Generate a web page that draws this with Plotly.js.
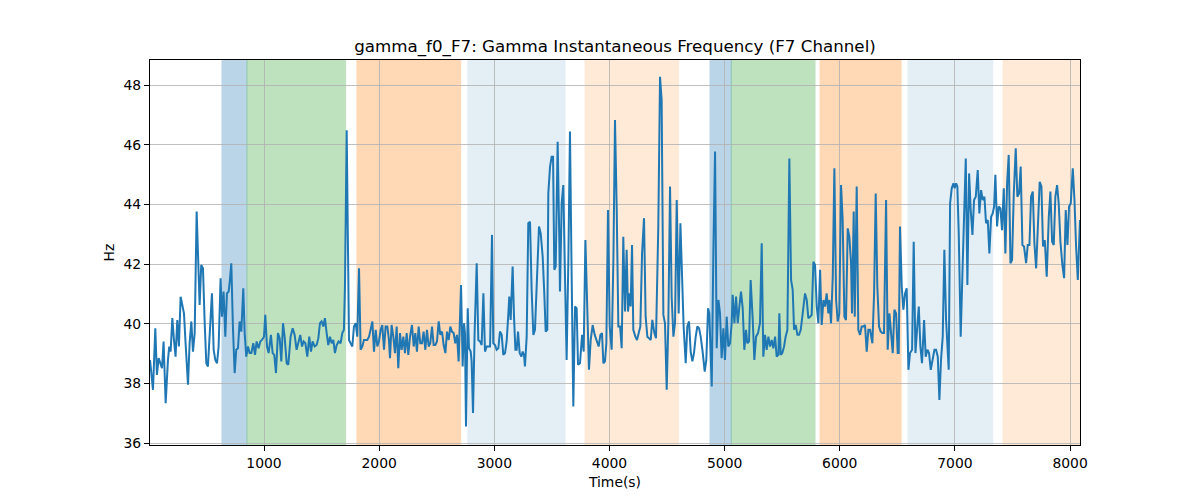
<!DOCTYPE html>
<html>
<head>
<meta charset="utf-8">
<script src="https://cdn.plot.ly/plotly-3.0.1.min.js"></script>
<style>html,body{margin:0;padding:0;background:#fff;}#chart{width:1200px;height:500px;}</style>
</head>
<body>
<div id="chart"></div>
<script>
// Time (s) and gamma instantaneous frequency (Hz) in segments
const time1 = [10,36,56,70,85,99,114,128,146,166,177,189,204,218,232,247,261,276,305,319,340,354,369,383,398,415,426,441,455,470,484,499,513,534,548,563,577,592,606,623,635,649,664,678,693,704,716,730,745,759,774,788,803,820,832,846,861,875,890,907,922,936,953,968,982,1000,1011,1026,1040,1060,1075,1089,1104,1121,1136,1150,1165,1179,1197,1211,1231,1249,1266,1283,1301,1315,1330,1344,1359,1376];
const freq1 = [38.79,37.79,39.85,38.29,38.85,38.68,38.51,39.41,37.34,38.79,39.24,39.07,40.19,39.46,38.90,40.13,39.24,40.91,40.35,39.35,37.96,39.35,40.08,39.07,39.69,43.76,42.59,40.63,41.97,41.86,40.13,38.68,38.57,39.91,41.02,39.13,38.79,38.68,39.24,41.53,40.24,41.08,39.57,41.02,41.08,41.47,42.03,39.91,38.35,39.13,39.18,40.08,39.74,41.19,39.69,38.90,39.24,39.02,39.02,39.35,38.96,39.41,39.18,39.41,39.46,39.57,40.30,39.24,39.02,39.63,39.02,38.96,38.35,39.69,39.52,38.74,40.02,39.57,38.68,38.63,39.57,39.85,39.63,39.13,39.46,39.63,39.24,39.41,39.35,38.90];

const time2 = [1393,1408,1422,1440,1457,1472,1486,1500,1515,1529,1544,1558,1573,1587,1602,1616,1631,1648,1665,1680,1694,1703,1718,1732,1738,1752,1767,1781,1796,1810,1825,1839,1854,1868,1883,1897,1912,1926,1941,1955,1970,1984,1998,2013,2027,2042,2056,2071,2085,2094,2108,2123,2137,2152,2166,2181,2195,2210,2224,2239,2253,2268,2285,2300,2314,2328,2343,2357,2372,2386,2401,2415,2430,2444,2459,2473,2488,2502,2517,2531,2546,2560,2575,2589,2604,2618,2632,2647,2661,2676,2690];
const freq2 = [39.57,39.07,39.41,39.24,39.29,39.52,40.02,40.08,39.91,40.19,39.69,39.29,39.57,39.35,39.46,39.02,39.29,39.41,39.35,39.69,39.80,41.25,46.49,41.69,39.46,39.35,39.24,39.91,40.02,39.57,41.86,39.13,39.24,39.46,39.46,39.46,39.57,39.80,40.08,39.07,39.80,39.24,39.41,39.80,39.96,39.13,39.91,39.91,39.46,38.85,39.96,39.57,39.02,39.91,38.51,39.69,39.13,39.57,39.02,39.69,38.96,39.57,39.96,39.24,39.69,39.07,39.91,39.35,39.35,39.74,39.13,39.80,39.24,39.35,39.91,39.29,39.29,39.41,40.08,39.63,39.74,39.29,39.02,39.74,39.46,39.91,39.74,39.69,39.35,39.63,38.74];

const time3 = [2711,2725,2737,2745,2754,2769,2780,2795,2803,2815,2829,2847,2861,2876,2890,2905,2919,2934,2948,2963,2980,2991,3006,3020,3035,3049,3064,3078,3093,3107,3122,3130,3142,3159,3171,3183,3194,3206,3220,3235,3246,3258,3266,3281,3295,3310,3324,3339,3353,3374,3388,3403,3420,3434,3446,3460,3469,3484,3498,3510,3521,3533,3550,3565,3570,3585,3599,3611,3628,3643,3657,3672,3686,3701,3715,3727,3744,3762,3776,3791,3808,3822,3837,3854,3872,3889,3906,3921,3935,3947,3961,3973,3987];
const freq3 = [41.30,38.57,40.02,39.69,36.56,40.52,39.18,39.07,38.74,37.01,39.69,42.03,39.46,39.41,39.29,41.02,39.07,39.24,39.24,39.24,42.98,39.35,39.29,39.13,39.18,39.74,39.63,38.96,39.02,39.41,40.35,40.91,40.13,41.92,40.24,39.13,39.13,39.74,39.02,38.90,39.07,38.96,38.57,39.57,43.37,43.42,41.14,39.63,39.80,42.03,43.26,43.03,42.25,41.02,39.74,39.80,44.37,45.27,45.60,45.60,41.81,41.92,46.10,42.70,41.08,44.04,44.65,42.14,38.79,42.14,46.44,41.47,37.23,40.58,40.52,38.63,38.68,39.63,39.07,42.81,40.80,38.46,39.46,39.96,39.63,39.46,39.24,39.63,39.69,38.68,38.74,39.35,43.81];

const time4 = [4002,4019,4034,4048,4063,4077,4092,4106,4120,4135,4149,4161,4173,4184,4196,4207,4225,4239,4254,4268,4283,4300,4314,4329,4343,4358,4372,4390,4404,4424,4439,4453,4468,4482,4497,4511,4526,4540,4555,4569,4584,4601,4616,4630,4644,4662,4676,4691,4705,4720,4734,4749,4763,4778,4792,4809,4827,4841,4856,4867,4888,4902,4917,4931,4946,4960,4974,4989,5003,5018,5032,5047,5061,5070,5085,5099,5114,5128,5142,5157,5171,5186,5197,5212,5226,5244,5258,5273,5290];
const freq4 = [39.91,39.13,42.14,46.83,43.81,39.91,39.91,39.18,42.92,40.41,42.48,40.41,41.02,40.58,42.64,39.80,39.57,39.46,39.69,39.91,42.36,43.54,40.24,39.57,39.52,39.46,40.13,39.69,39.52,43.26,48.28,47.50,40.30,40.02,37.79,40.02,44.60,40.91,39.57,40.02,44.15,40.35,43.37,41.69,39.91,38.68,39.91,40.08,39.07,38.74,39.02,39.57,39.91,39.85,39.57,39.07,38.40,38.79,40.52,40.35,37.90,42.36,45.77,39.18,40.80,40.35,38.85,39.85,38.79,40.24,39.24,39.35,40.02,40.97,40.02,40.91,40.02,40.58,41.08,40.52,39.13,39.80,39.35,39.41,41.47,40.13,38.79,39.57,39.69];

const time5 = [5307,5322,5336,5351,5365,5380,5394,5409,5423,5438,5452,5467,5475,5487,5501,5516,5530,5545,5562,5577,5591,5603,5617,5632,5646,5661,5678,5698,5713,5727,5742,5756,5771,5785,5800,5814,5829,5843,5858,5872,5886,5901,5910,5924,5939,5953,5968,5982,5996,6011,6025,6040,6054,6069,6083,6098,6106,6121,6130,6147,6161,6176,6190,6205,6219,6234,6248,6263,6283,6298,6312,6326,6341,6355,6370,6384,6402,6416,6431,6445,6460,6474,6489,6503,6512,6523,6538,6552,6567,6581,6596];
const freq5 = [40.02,42.70,38.90,39.63,39.13,39.57,39.24,39.46,39.18,39.57,38.90,38.96,40.35,38.96,39.02,39.24,39.57,39.80,45.54,41.47,41.14,39.80,39.96,39.63,39.63,39.80,40.35,41.02,40.80,40.19,40.24,40.30,42.08,41.97,40.58,40.02,41.81,39.96,40.80,40.58,41.02,40.35,40.80,40.02,41.58,45.21,40.80,40.08,40.35,44.65,43.48,40.24,40.13,43.20,42.92,42.03,40.35,43.76,40.24,44.60,39.80,39.63,39.91,39.91,39.96,39.07,39.80,39.80,39.35,41.02,44.37,41.25,39.91,39.74,39.69,39.69,44.15,39.13,40.35,39.80,39.02,40.47,40.35,39.02,39.02,43.26,41.25,40.47,41.02,41.19,38.46];

const time6 = [6610,6628,6642,6657,6671,6686,6700,6714,6732,6746,6761,6775,6790,6807,6822,6836,6851,6865,6879,6894,6908,6923,6937,6946,6958,6972,6987,6998,7010,7021,7033,7050,7065,7082,7094,7108,7123,7137,7152,7166,7181,7198,7212,7227,7241,7256,7270,7285,7299,7314,7328,7340,7351,7366,7380,7395,7409,7424,7438,7453,7467,7482,7496,7511,7528,7542,7557,7571,7586,7600,7618,7632,7647,7661,7676,7690,7705,7719,7736,7751,7765,7780,7797,7815,7829,7844,7858,7872,7887,7901,7916,7933,7948,7962,7977,7991,8006,8023,8038,8052,8067,8086];
const freq6 = [39.02,39.13,42.75,39.02,39.80,40.58,39.24,38.68,40.13,38.90,39.13,39.02,38.46,38.79,39.13,39.13,38.90,37.45,38.79,39.57,42.48,40.13,38.90,38.46,44.04,44.54,44.71,44.54,44.71,44.60,43.03,39.57,41.69,44.37,45.54,41.30,45.04,43.81,42.98,44.15,44.26,45.15,43.70,44.48,44.15,44.26,43.37,43.48,42.36,43.59,43.70,43.93,44.99,43.26,43.93,43.87,43.14,44.54,42.36,44.71,45.66,42.03,42.14,44.37,45.88,44.26,44.37,45.27,42.64,42.59,42.03,42.64,42.64,44.26,44.43,42.70,41.86,43.14,44.76,44.60,42.59,42.81,41.58,43.59,44.43,42.75,42.64,44.26,44.65,44.04,42.75,41.97,41.53,43.81,42.64,43.93,44.04,45.21,44.15,42.59,41.47,43.48];

// Shaded state intervals (start, end, kind)
const spanStart = [635, 852, 1807, 2771, 3788, 4873, 5058, 5829, 6593, 7418];
const spanEnd   = [852, 1709, 2708, 3614, 4601, 5058, 5785, 6532, 7328, 8090];
const spanKind  = ['blue','green','orange','lightblue','lightorange','blue','green','orange','lightblue','lightorange'];

const spanStyle = {
  blue:        {color: '#1f77b4', opacity: 0.3},
  green:       {color: '#2ca02c', opacity: 0.3},
  orange:      {color: '#ff7f0e', opacity: 0.3},
  lightblue:   {color: '#1f77b4', opacity: 0.12},
  lightorange: {color: '#ff7f0e', opacity: 0.16}
};

const time = [].concat(time1, time2, time3, time4, time5, time6);
const freq = [].concat(freq1, freq2, freq3, freq4, freq5, freq6);

const shapes = spanStart.map((s, i) => {
  const st = spanStyle[spanKind[i]];
  return {
    type: 'rect', xref: 'x', yref: 'paper',
    x0: s, x1: spanEnd[i], y0: 0, y1: 1,
    fillcolor: st.color, opacity: st.opacity,
    line: {color: st.color, width: 1},
    layer: 'below'
  };
});

const font = {family: 'DejaVu Sans, sans-serif', size: 13.9, color: '#000'};

const trace = {
  x: time, y: freq, type: 'scatter', mode: 'lines',
  line: {color: '#1f77b4', width: 2},
  hoverinfo: 'x+y'
};

const layout = {
  width: 1200, height: 500,
  margin: {l: 150, r: 120, t: 60, b: 55},
  paper_bgcolor: '#fff', plot_bgcolor: 'rgba(0,0,0,0)',
  font: font,
  showlegend: false,
  title: {
    text: 'gamma_f0_F7: Gamma Instantaneous Frequency (F7 Channel)',
    font: {family: 'DejaVu Sans, sans-serif', size: 16.7, color: '#000'},
    x: 0.5, xref: 'paper', xanchor: 'center',
    y: 1 - 46/500, yref: 'container', yanchor: 'middle'
  },
  xaxis: {
    range: [10, 8086],
    tickvals: [1000, 2000, 3000, 4000, 5000, 6000, 7000, 8000],
    ticktext: ['1000','2000','3000','4000','5000','6000','7000','8000'],
    showgrid: true, gridcolor: '#b0b0b0', gridwidth: 0.8,
    zeroline: false,
    showline: true, linecolor: '#000', linewidth: 1, mirror: true,
    ticks: 'outside', ticklen: 5, tickwidth: 1, tickcolor: '#000',
    tickfont: font,
    title: {text: 'Time(s)', font: font, standoff: 7},
    automargin: false
  },
  yaxis: {
    range: [35.94, 48.84],
    tickvals: [36, 38, 40, 42, 44, 46, 48],
    ticktext: ['36','38','40','42','44','46','48'],
    showgrid: true, gridcolor: '#b0b0b0', gridwidth: 0.8,
    zeroline: false,
    showline: true, linecolor: '#000', linewidth: 1, mirror: true,
    ticks: 'outside', ticklen: 5, tickwidth: 1, tickcolor: '#000',
    tickfont: font,
    title: {text: 'Hz', font: font, standoff: 5},
    automargin: false
  },
  shapes: shapes
};

Plotly.newPlot('chart', [trace], layout, {staticPlot: true, displayModeBar: false});
</script>
</body>
</html>
